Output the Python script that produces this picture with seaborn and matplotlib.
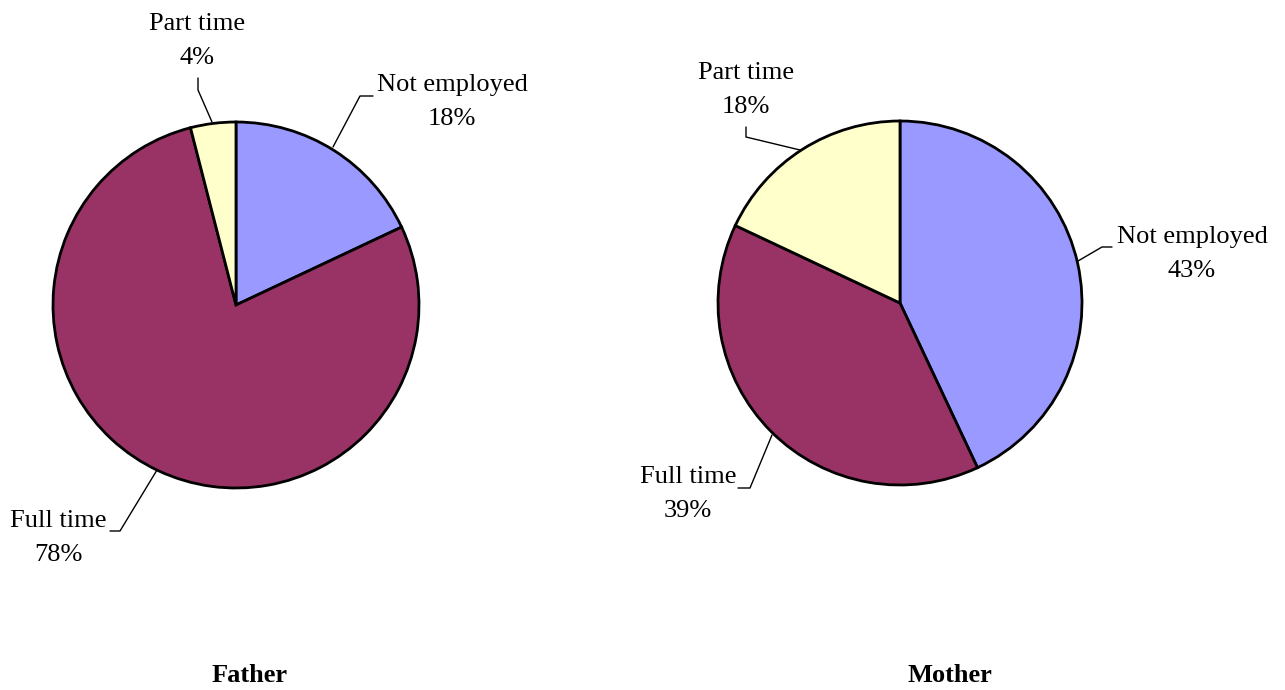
import seaborn as sns
import matplotlib.pyplot as plt

sns.set_theme(style="white")
plt.rcParams['font.family'] = ['Liberation Serif', 'DejaVu Serif']

categories = ["Not employed", "Full time", "Part time"]
father_pct = [18, 78, 4]
mother_pct = [43, 39, 18]
colors = ["#9999FF", "#993366", "#FFFFCC"]

W, H = 1285, 690
fig = plt.figure(figsize=(W / 100, H / 100), dpi=100)
ax = fig.add_axes([0, 0, 1, 1])


def draw_pie(values, cx, cy, r):
    ax.pie(values, colors=colors, center=(cx, H - cy), radius=r,
           startangle=90, counterclock=False, frame=True,
           wedgeprops=dict(edgecolor="black", linewidth=2))


def label(text, tx, ty, pts):
    ax.text(tx, H - ty, text, ha="center", va="center", fontsize=19,
            linespacing=1.68, color="black")
    xs = [p[0] for p in pts]
    ys = [H - p[1] for p in pts]
    ax.plot(xs, ys, color="black", lw=1)


draw_pie(father_pct, 236, 305, 183)
draw_pie(mother_pct, 900, 303, 182)

# father labels
label(f"{categories[2]}\n{father_pct[2]}%", 197, 41, [(198, 78), (198, 90), (212, 122)])
label(f"{categories[0]}\n{father_pct[0]}%", 452, 102, [(373, 96), (360, 96), (333, 147)])
label(f"{categories[1]}\n{father_pct[1]}%", 58, 538, [(110, 531), (120, 531), (157, 470)])

# mother labels
label(f"{categories[2]}\n{mother_pct[2]}%", 746, 90, [(746, 127), (746, 137), (800, 150)])
label(f"{categories[0]}\n{mother_pct[0]}%", 1192, 254, [(1112, 247), (1102, 247), (1078, 261)])
label(f"{categories[1]}\n{mother_pct[1]}%", 688, 494, [(738, 488), (750, 488), (772, 435)])

ax.text(250, H - 675, "Father", ha="center", va="center", fontsize=19,
        fontweight="bold", color="black")
ax.text(950, H - 675, "Mother", ha="center", va="center", fontsize=19,
        fontweight="bold", color="black")

ax.set_xlim(0, W)
ax.set_ylim(0, H)
ax.set_aspect("equal")
ax.axis("off")

fig.savefig("out.png", dpi=100)
